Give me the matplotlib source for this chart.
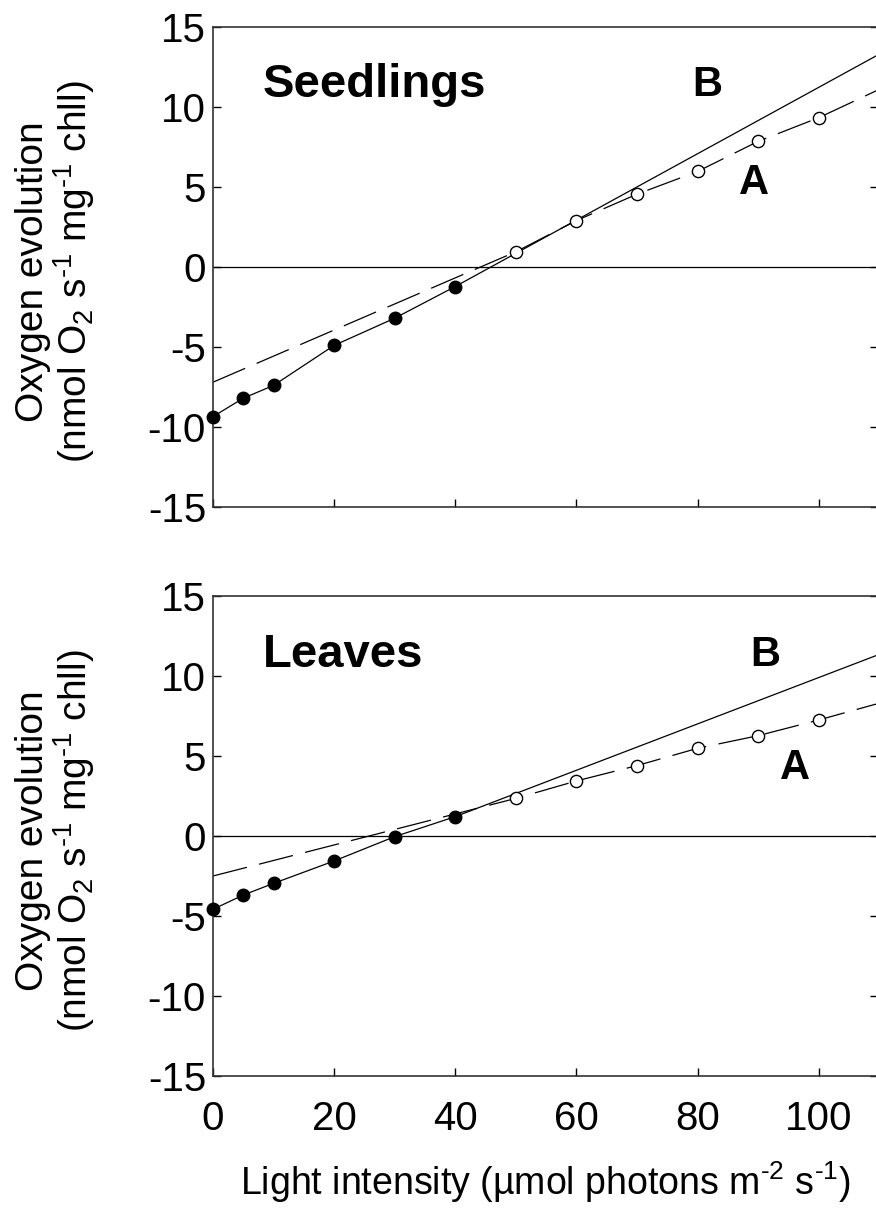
import matplotlib
matplotlib.use("Agg")
import matplotlib.pyplot as plt

plt.rcParams['font.family'] = ['Liberation Sans', 'DejaVu Sans']
plt.rcParams['mathtext.fontset'] = 'custom'
plt.rcParams['mathtext.rm'] = 'Liberation Sans'
plt.rcParams['mathtext.it'] = 'Liberation Sans:italic'
plt.rcParams['mathtext.bf'] = 'Liberation Sans:bold'
plt.rcParams['axes.unicode_minus'] = False

# ---- data ----
x_dark = [0, 5, 10, 20, 30, 40]
x_light = [50, 60, 70, 80, 90, 100]

seed_dark = [-9.35, -8.2, -7.4, -4.9, -3.2, -1.22]
seed_light = [0.95, 2.9, 4.55, 5.97, 7.85, 9.33]
seed_lineB_end = (110, 13.3)      # solid extrapolation (B)
seed_lineA_ends = (-7.2, 11.1)    # dashed line A at x=0 and x=110

leaf_dark = [-4.58, -3.69, -2.96, -1.56, -0.04, 1.21]
leaf_light = [2.35, 3.44, 4.4, 5.48, 6.27, 7.25]
leaf_lineB_end = (110, 11.35)
leaf_lineA_ends = (-2.5, 8.3)

line_x0, line_x1 = 0, 110
panel_titles = ['Seedlings', 'Leaves']
xticks = [0, 20, 40, 60, 80, 100]
yticks = [-15, -10, -5, 0, 5, 10, 15]

W, H = 876, 1216
fig = plt.figure(figsize=(W / 100, H / 100), dpi=100)

def axrect(left, top, right, bottom):
    return [left / W, 1 - bottom / H, (right - left) / W, (bottom - top) / H]

ax1 = fig.add_axes(axrect(213, 27, 878, 507))
ax2 = fig.add_axes(axrect(213, 596, 878, 1076))

panels = [
    (ax1, seed_dark, seed_light, seed_lineB_end, seed_lineA_ends,
     panel_titles[0], (263, 85), (707, 85), (754, 183)),
    (ax2, leaf_dark, leaf_light, leaf_lineB_end, leaf_lineA_ends,
     panel_titles[1], (263, 655), (765, 655), (795, 768)),
]

HY = '\u2010'
ylab = 'Oxygen evolution\n(nmol O$_2$ s$^{%s1}$ mg$^{%s1}$ chll)' % (HY, HY)
xlab = 'Light intensity (µmol photons m$^{%s2}$ s$^{%s1}$)' % (HY, HY)

lw = 0.9
for i, (ax, dark, light, bend, aends, title, posT, posB, posA) in enumerate(panels):
    ax.axhline(0, color='black', lw=lw, zorder=1)
    # solid line B: through filled points, then extended
    ax.plot(x_dark + [bend[0]], dark + [bend[1]], color='black', lw=lw, zorder=2)
    # dashed line A: through open points, extended to both sides
    la, = ax.plot([line_x0] + x_light + [line_x1], [aends[0]] + light + [aends[1]],
                  color='black', lw=lw, zorder=2)
    la.set_dashes((28, 10))
    ax.plot(x_dark, dark, 'o', color='black', ms=9, zorder=5, clip_on=False)
    ax.plot(x_light, light, 'o', mfc='white', mec='black', mew=1.0, ms=8.8, zorder=5,
            clip_on=False)

    ax.set_xlim(0, 109.8)
    ax.set_ylim(-15, 15)
    ax.set_xticks(xticks)
    ax.set_yticks(yticks)
    ax.tick_params(direction='in', length=6, width=1, labelsize=29, pad=5,
                   right=True, top=False, left=True, bottom=True)
    ax.tick_params(axis='x', pad=17)
    for s in ax.spines.values():
        s.set_linewidth(1.2)
        s.set_color('#333333')
    if i == 0:
        ax.set_xticklabels([])

    bbox = ax.get_position()
    def pix(px, py):
        fx = (px / W - bbox.x0) / bbox.width
        fy = ((1 - py / H) - bbox.y0) / bbox.height
        return fx, fy
    tx, ty = pix(*posT)
    ax.text(tx, ty, title, transform=ax.transAxes, fontsize=34, fontweight='bold',
            ha='left', va='center')
    bxp, byp = pix(*posB)
    ax.text(bxp, byp, 'B', transform=ax.transAxes, fontsize=30, fontweight='bold',
            ha='center', va='center')
    axp, ayp = pix(*posA)
    ax.text(axp, ayp, 'A', transform=ax.transAxes, fontsize=30, fontweight='bold',
            ha='center', va='center')

    ax.set_ylabel(ylab, fontsize=28, multialignment='center', linespacing=1.0)
    ax.yaxis.set_label_coords(-0.175, 0.49)

ax2.set_xlabel(xlab, fontsize=27, labelpad=16)

fig.savefig('out.png', dpi=100)
